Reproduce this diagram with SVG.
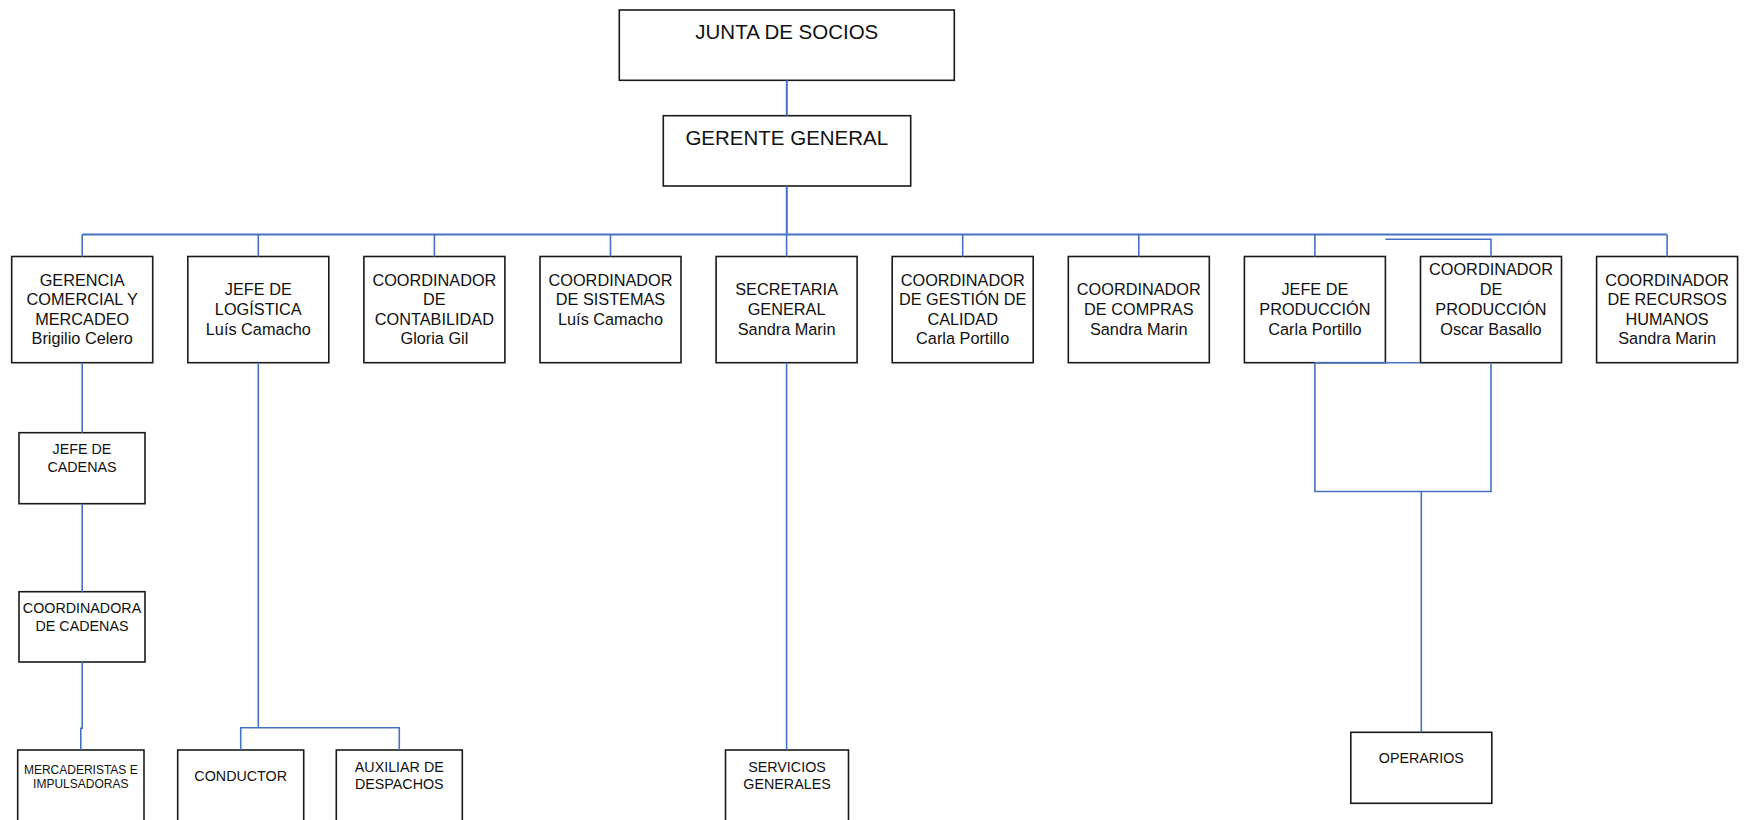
<svg xmlns="http://www.w3.org/2000/svg" width="1744" height="820" viewBox="0 0 1744 820">
<style>
.box{fill:#fff;stroke:#1a1a1a;stroke-width:1.6}
.t{font-family:"Liberation Sans",Arial,sans-serif;fill:#111;text-anchor:middle}
.big{font-size:20.5px}
.m{font-size:16.3px}
.s{font-size:14.3px}
.xs{font-size:12px}
.c{fill:none;stroke:#4472C4;stroke-width:1.6}
.cb{fill:none;stroke:#4472C4;stroke-width:2}
</style>
<rect width="1744" height="820" fill="#fff"/>
<g id="nodes">
<g id="junta"><rect class="box" x="619.3" y="10" width="335" height="70.3"/><text class="t big" x="786.8" y="39.3">JUNTA DE SOCIOS</text></g>
<g id="gerente"><rect class="box" x="663.3" y="115.7" width="247.4" height="70.3"/><text class="t big" x="786.8" y="145">GERENTE GENERAL</text></g>

<g id="gerencia"><rect class="box" x="11.7" y="256.5" width="141" height="106.2"/><text class="t m" x="82.2"><tspan x="82.2" y="285.5">GERENCIA</tspan><tspan x="82.2" y="305">COMERCIAL Y</tspan><tspan x="82.2" y="324.5">MERCADEO</tspan><tspan x="82.2" y="344">Brigilio Celero</tspan></text></g>
<g id="logistica"><rect class="box" x="187.8" y="256.5" width="141" height="106.2"/><text class="t m"><tspan x="258.3" y="295">JEFE DE</tspan><tspan x="258.3" y="315">LOGÍSTICA</tspan><tspan x="258.3" y="335">Luís Camacho</tspan></text></g>
<g id="contabilidad"><rect class="box" x="363.9" y="256.5" width="141" height="106.2"/><text class="t m"><tspan x="434.4" y="285.5">COORDINADOR</tspan><tspan x="434.4" y="305">DE</tspan><tspan x="434.4" y="324.5">CONTABILIDAD</tspan><tspan x="434.4" y="344">Gloria Gil</tspan></text></g>
<g id="sistemas"><rect class="box" x="540" y="256.5" width="141" height="106.2"/><text class="t m"><tspan x="610.5" y="285.5">COORDINADOR</tspan><tspan x="610.5" y="305">DE SISTEMAS</tspan><tspan x="610.5" y="324.5">Luís Camacho</tspan></text></g>
<g id="secretaria"><rect class="box" x="716.1" y="256.5" width="141" height="106.2"/><text class="t m"><tspan x="786.6" y="295">SECRETARIA</tspan><tspan x="786.6" y="315">GENERAL</tspan><tspan x="786.6" y="335">Sandra Marin</tspan></text></g>
<g id="calidad"><rect class="box" x="892.2" y="256.5" width="141" height="106.2"/><text class="t m"><tspan x="962.7" y="285.5">COORDINADOR</tspan><tspan x="962.7" y="305">DE GESTIÓN DE</tspan><tspan x="962.7" y="324.5">CALIDAD</tspan><tspan x="962.7" y="344">Carla Portillo</tspan></text></g>
<g id="compras"><rect class="box" x="1068.3" y="256.5" width="141" height="106.2"/><text class="t m"><tspan x="1138.8" y="295">COORDINADOR</tspan><tspan x="1138.8" y="315">DE COMPRAS</tspan><tspan x="1138.8" y="335">Sandra Marin</tspan></text></g>
<g id="jefe-produccion"><rect class="box" x="1244.4" y="256.5" width="141" height="106.2"/><text class="t m"><tspan x="1314.9" y="295">JEFE DE</tspan><tspan x="1314.9" y="315">PRODUCCIÓN</tspan><tspan x="1314.9" y="335">Carla Portillo</tspan></text></g>
<g id="coord-produccion"><rect class="box" x="1420.5" y="256.5" width="141" height="106.2"/><text class="t m"><tspan x="1491" y="275">COORDINADOR</tspan><tspan x="1491" y="295">DE</tspan><tspan x="1491" y="315">PRODUCCIÓN</tspan><tspan x="1491" y="335">Oscar Basallo</tspan></text></g>
<g id="rrhh"><rect class="box" x="1596.6" y="256.5" width="141" height="106.2"/><text class="t m"><tspan x="1667.1" y="285.5">COORDINADOR</tspan><tspan x="1667.1" y="305">DE RECURSOS</tspan><tspan x="1667.1" y="324.5">HUMANOS</tspan><tspan x="1667.1" y="344">Sandra Marin</tspan></text></g>

<g id="jefe-cadenas"><rect class="box" x="19" y="432.7" width="126" height="71"/><text class="t s"><tspan x="82" y="454.3">JEFE DE</tspan><tspan x="82" y="472">CADENAS</tspan></text></g>
<g id="coord-cadenas"><rect class="box" x="19" y="591.7" width="126" height="70.3"/><text class="t s"><tspan x="82" y="613.3">COORDINADORA</tspan><tspan x="82" y="630.7">DE CADENAS</tspan></text></g>
<g id="mercaderistas"><rect class="box" x="17.7" y="750" width="126.3" height="90"/><text class="t xs"><tspan x="80.8" y="774.3">MERCADERISTAS E</tspan><tspan x="80.8" y="788.3">IMPULSADORAS</tspan></text></g>
<g id="conductor"><rect class="box" x="177.7" y="750" width="126" height="90"/><text class="t s" x="240.7" y="781">CONDUCTOR</text></g>
<g id="auxiliar"><rect class="box" x="336.3" y="750" width="126" height="90"/><text class="t s"><tspan x="399.3" y="772.3">AUXILIAR DE</tspan><tspan x="399.3" y="789.3">DESPACHOS</tspan></text></g>
<g id="servicios"><rect class="box" x="725.5" y="750" width="123" height="90"/><text class="t s"><tspan x="787" y="771.7">SERVICIOS</tspan><tspan x="787" y="789.3">GENERALES</tspan></text></g>
<g id="operarios"><rect class="box" x="1350.8" y="732.3" width="141" height="71"/><text class="t s" x="1421.3" y="762.7">OPERARIOS</text></g>
</g>
<g id="connectors">
<path class="cb" d="M786.8 80.3V115.7M786.8 186V234.5M82.2 234.5H1667.1"/>
<path class="c" d="M82.2 234.5V256.5M258.3 234.5V256.5M434.4 234.5V256.5M610.5 234.5V256.5M962.7 234.5V256.5M1138.8 234.5V256.5M1314.9 234.5V256.5M1667.1 234.5V256.5"/>
<path class="c" d="M786.6 234.5V256.5M786.6 362.7V750"/>
<path class="c" d="M1385.4 239.3H1491V256.5"/>
<path class="c" d="M82.2 362.7V432.7M82.2 503.7V591.7M82.2 662V728.3H80.8V750"/>
<path class="c" d="M258.3 362.7V727.7M240.7 750V727.7H399.3V750"/>
<path class="c" d="M1314.9 362.7H1420.5M1314.9 362.7V491.5H1491V362.7M1421.3 491.5V732.3"/>
</g>
</svg>
